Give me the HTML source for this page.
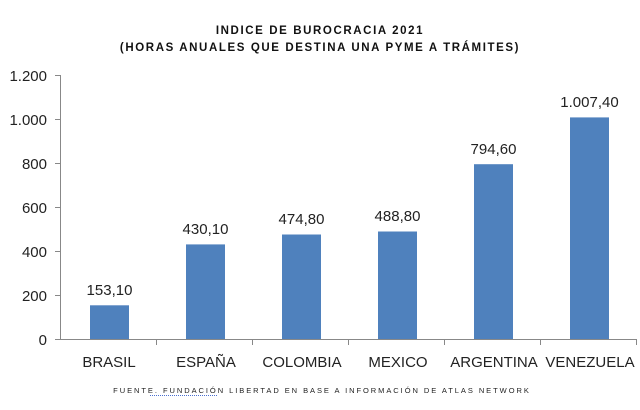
<!DOCTYPE html>
<html><head><meta charset="utf-8"><style>
body{margin:0;background:#fff;width:640px;height:405px;overflow:hidden;font-family:"Liberation Sans",sans-serif}
</style></head><body>
<svg width="640" height="405" xmlns="http://www.w3.org/2000/svg" font-family="Liberation Sans, sans-serif">
<text x="320" y="34" text-anchor="middle" font-size="11.5" font-weight="bold" letter-spacing="1.6" fill="#111">INDICE DE BUROCRACIA 2021</text>
<text x="320" y="51" text-anchor="middle" font-size="11.5" font-weight="bold" letter-spacing="1.6" fill="#111">(HORAS ANUALES QUE DESTINA UNA PYME A TRÁMITES)</text>
<g stroke="#888" stroke-width="1">
<line x1="60.5" y1="75" x2="60.5" y2="339"/>
<line x1="55" y1="339.5" x2="637" y2="339.5"/>
<line x1="55" y1="75.5" x2="60" y2="75.5"/><line x1="55" y1="119.5" x2="60" y2="119.5"/><line x1="55" y1="163.5" x2="60" y2="163.5"/><line x1="55" y1="207.5" x2="60" y2="207.5"/><line x1="55" y1="251.5" x2="60" y2="251.5"/><line x1="55" y1="295.5" x2="60" y2="295.5"/>
<line x1="156.5" y1="339" x2="156.5" y2="345"/><line x1="252.5" y1="339" x2="252.5" y2="345"/><line x1="348.5" y1="339" x2="348.5" y2="345"/><line x1="444.5" y1="339" x2="444.5" y2="345"/><line x1="540.5" y1="339" x2="540.5" y2="345"/><line x1="636.5" y1="339" x2="636.5" y2="345"/>
</g>
<g font-size="15" fill="#222" text-anchor="end">
<text x="47" y="81">1.200</text><text x="47" y="125">1.000</text><text x="47" y="169">800</text><text x="47" y="213">600</text><text x="47" y="257">400</text><text x="47" y="301">200</text><text x="47" y="345">0</text>
</g>
<g fill="#4f81bd">
<rect x="90" y="305.3" width="39" height="33.7"/>
<rect x="186" y="244.4" width="39" height="94.6"/>
<rect x="282" y="234.5" width="39" height="104.5"/>
<rect x="378" y="231.5" width="39" height="107.5"/>
<rect x="474" y="164.2" width="39" height="174.8"/>
<rect x="570" y="117.4" width="39" height="221.6"/>
</g>
<g font-size="15" fill="#222" text-anchor="middle">
<text x="109.5" y="295">153,10</text><text x="205.5" y="234">430,10</text><text x="301.5" y="224">474,80</text><text x="397.5" y="221">488,80</text><text x="493.5" y="154">794,60</text><text x="589.5" y="107">1.007,40</text>
<text x="109" y="367">BRASIL</text><text x="206" y="367">ESPAÑA</text><text x="302" y="367">COLOMBIA</text><text x="398" y="367">MEXICO</text><text x="494" y="367">ARGENTINA</text><text x="590" y="367">VENEZUELA</text>
</g>
<text x="322" y="393" text-anchor="middle" font-size="7.5" letter-spacing="1.95" fill="#222">FUENTE. FUNDACIÓN LIBERTAD EN BASE A INFORMACIÓN DE ATLAS NETWORK</text>
<line x1="150" y1="395.5" x2="218" y2="395.5" stroke="#4a6fd0" stroke-width="1" stroke-dasharray="1,1"/>
</svg>
</body></html>
